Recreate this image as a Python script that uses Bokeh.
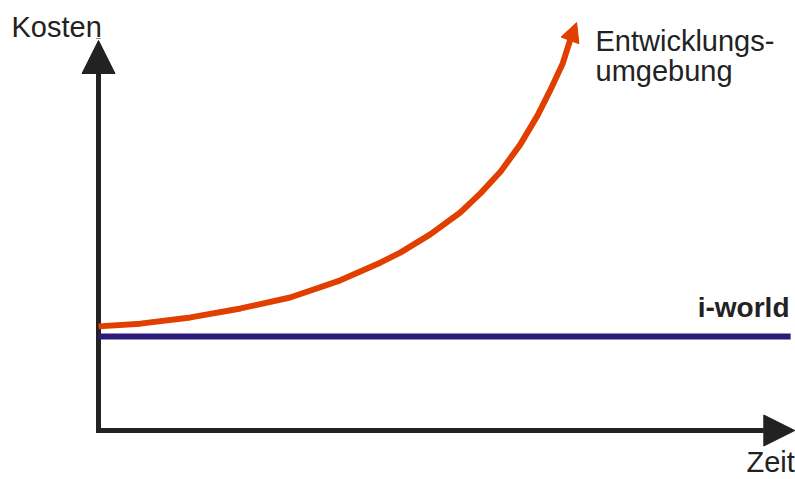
from bokeh.plotting import figure
from bokeh.models import Range1d, Arrow, NormalHead, Label
from bokeh.embed import file_html
from bokeh.resources import INLINE

# ---- data (abstract units: Zeit 0..100, Kosten 0..100) ----
zeit_env = [0, 6.0, 13.2, 20.4, 27.5, 34.7, 40.5, 43.3, 47.6, 51.9, 54.8, 57.7,
            60.5, 63.0, 64.8, 66.6, 67.7, 68.6]
kosten_env = [26.7, 27.4, 29.0, 31.3, 34.1, 38.5, 43.1, 45.6, 50.3, 55.9, 60.8, 66.4,
              73.3, 80.8, 87.2, 94.1, 100.3, 104.6]
zeit_iw = [0, 99.3]
kosten_iw = [24.1, 24.1]
axis_x_max = 99.9
axis_y_max = 100.0

label_kosten = "Kosten"
label_zeit = "Zeit"
label_env = ["Entwicklungs-", "umgebung"]
label_iw = "i-world"

# ---- layout: map units to pixels ----
W, H = 795, 479
OX, OY = 98, 430              # origin in canvas px
SX, SY = 6.97, 3.9            # px per unit
TY = -10                      # text baseline correction

def ux(px):
    return (px - OX) / SX

def uy(py):
    return (OY - py) / SY

p = figure(width=W, height=H, output_backend="svg", toolbar_location=None,
           x_range=Range1d(ux(0), ux(W)), y_range=Range1d(uy(H), uy(0)),
           min_border=0, min_border_left=0, min_border_right=0,
           min_border_top=0, min_border_bottom=0)
p.axis.visible = False
p.xgrid.visible = False
p.ygrid.visible = False
p.outline_line_color = None
p.background_fill_color = "white"
p.border_fill_color = "white"

AXC = "#242220"
# axes arrows
p.add_layout(Arrow(x_start=0, y_start=0, x_end=0, y_end=axis_y_max,
                   line_width=5, line_color=AXC, line_cap="square", level="underlay",
                   end=NormalHead(size=33, fill_color=AXC, line_color=AXC, line_width=1)))
p.add_layout(Arrow(x_start=0, y_start=0, x_end=axis_x_max, y_end=0,
                   line_width=5, line_color=AXC, line_cap="square", level="underlay",
                   end=NormalHead(size=31, fill_color=AXC, line_color=AXC, line_width=1)))

# i-world line
p.line(zeit_iw, kosten_iw, line_width=6, line_color="#2E1A78")

# Entwicklungsumgebung curve
ORC = "#E03F00"
p.line(zeit_env[:-1], kosten_env[:-1], line_width=6, line_color=ORC, line_join="round")
p.add_layout(Arrow(x_start=zeit_env[-2], y_start=kosten_env[-2],
                   x_end=zeit_env[-1], y_end=kosten_env[-1],
                   line_alpha=0,
                   end=NormalHead(size=19, fill_color=ORC, line_color=ORC, line_width=1)))

FONT = "Liberation Sans"
TXT = "#222222"
p.add_layout(Label(x=ux(11), y=uy(36 + TY), text=label_kosten, text_font=FONT,
                   text_font_size="29px", text_color=TXT, text_baseline="alphabetic"))
p.add_layout(Label(x=ux(746), y=uy(471 + TY), text=label_zeit, text_font=FONT,
                   text_font_size="29px", text_color=TXT, text_baseline="alphabetic"))
p.add_layout(Label(x=ux(595), y=uy(50 + TY), text=label_env[0], text_font=FONT,
                   text_font_size="29px", text_color=TXT, text_baseline="alphabetic"))
p.add_layout(Label(x=ux(595), y=uy(80 + TY), text=label_env[1], text_font=FONT,
                   text_font_size="29px", text_color=TXT, text_baseline="alphabetic"))
p.add_layout(Label(x=ux(789), y=uy(317 + TY), text=label_iw, text_font=FONT,
                   text_font_size="28px", text_font_style="bold", text_color=TXT,
                   text_align="right", text_baseline="alphabetic"))

open("out.html", "w").write(file_html(p, INLINE))
